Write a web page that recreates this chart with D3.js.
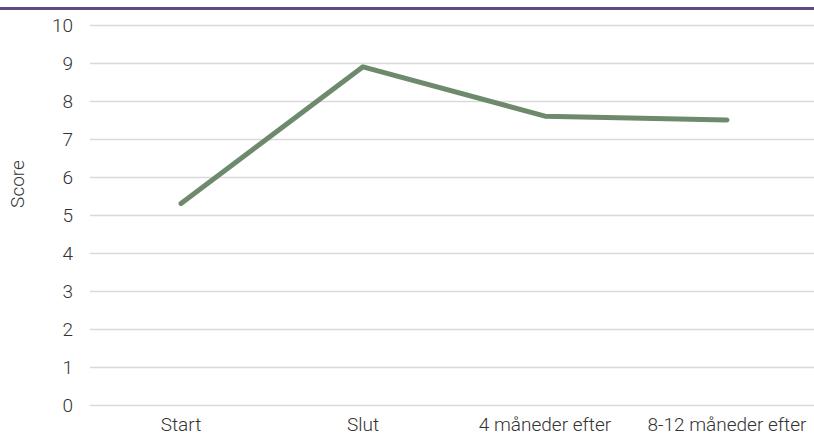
<!DOCTYPE html>
<html><head><meta charset="utf-8">
<script src="https://cdn.jsdelivr.net/npm/d3@7"></script>
<style>body{margin:0;background:#fff}svg{display:block}text{font-family:Roboto,"Noto Sans",sans-serif;font-weight:300;fill:#333}</style>
</head><body>
<script>
const categories = ["Start", "Slut", "4 måneder efter", "8-12 måneder efter"];
const scores = [5.3, 8.9, 7.6, 7.5];
const yTicks = [0,1,2,3,4,5,6,7,8,9,10];

const W = 814, H = 435;
const svg = d3.select("body").append("svg").attr("width", W).attr("height", H);

svg.append("rect").attr("x",0).attr("y",7).attr("width",W).attr("height",3).attr("fill","#5e4b83");

const x = d3.scaleBand().domain(categories).range([90, 818]);
const y = d3.scaleLinear().domain([0,10]).range([405, 25]);

const g = svg.append("g");
g.selectAll("line.grid").data(yTicks).join("line")
  .attr("x1",90).attr("x2",W).attr("y1",d=>y(d)+0.5).attr("y2",d=>y(d)+0.5)
  .attr("stroke","#d9d9d9").attr("stroke-width",1.3);

g.selectAll("text.yt").data(yTicks).join("text")
  .attr("x",73).attr("y",d=>y(d)).attr("dy","0.36em").attr("text-anchor","end")
  .attr("font-size",19).text(d=>d);

g.selectAll("text.xt").data(categories).join("text")
  .attr("x",d=>x(d)+x.bandwidth()/2).attr("y",431).attr("text-anchor","middle")
  .attr("font-size",19).text(d=>d);

svg.append("text").attr("transform","translate(24,184) rotate(-90)").attr("text-anchor","middle")
  .attr("font-size",19).text("Score");

const line = d3.line().x((d,i)=>x(categories[i])+x.bandwidth()/2).y(d=>y(d));
svg.append("path").datum(scores).attr("d",line).attr("fill","none")
  .attr("stroke","#6d8a6d").attr("stroke-width",5).attr("stroke-linecap","round").attr("stroke-linejoin","round");
</script>
</body></html>
